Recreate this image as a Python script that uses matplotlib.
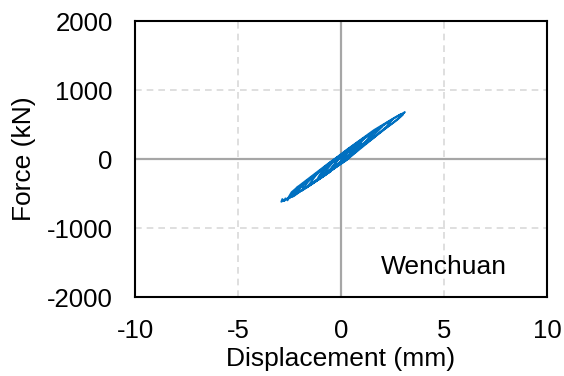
import matplotlib.pyplot as plt

plt.rcParams['font.family'] = ['Liberation Sans', 'DejaVu Sans']
plt.rcParams['axes.unicode_minus'] = False

# Hysteresis trace (displacement in mm, force in kN)
disp = [0.0, 0.3, 0.6, 0.4, 0.9, 1.1, 0.7, 0.2, -0.3, -0.7,
        -0.5, -1.0, -1.2, -0.8, -0.3, 0.2, 0.7, 1.2, 1.6, 1.3,
        0.8, 0.3, -0.2, -0.8, -1.4, -1.9, -1.6, -1.1, -0.4, 0.4,
        1.1, 1.7, 2.2, 2.5, 2.2, 1.6, 0.9, 0.2, -0.5, -1.2,
        -1.7, -2.0, -2.1, -1.9, -2.3, -2.6, -2.4, -2.0, -1.3, -0.6,
        0.2, 1.0, 1.7, 2.3, 2.8, 3.1, 2.9, 2.5, 2.0, 1.3,
        0.6, -0.1, -0.8, -1.5, -2.2, -2.6, -2.9, -2.85, -2.75, -2.7,
        -2.6, -2.5, -2.3, -1.8, -1.1, -0.4, 0.3, 1.0, 1.6, 2.1,
        2.6, 2.9, 3.0, 2.7, 2.2, 1.6, 1.0, 0.4, -0.3, -1.0,
        -1.7, -2.3, -2.5, -2.1, -2.2, -1.5, -0.7, 0.1, 0.8, 1.5,
        2.0, 1.7, 1.1, 0.4, -0.3, -1.0, -1.6, -1.2, -0.5, 0.3,
        0.9, 0.5, -0.1, -0.6, -0.2, 0.1, 0.6, 1.0, 0.5, -0.2,
        -0.8, -1.1, -0.6, 0.0, 0.7, 0.4, -0.4, -0.9, -0.4, 0.3,
        0.8, 0.2, -0.5, -0.1, 0.4, 0.0]
force = [0, 100, 190, 150, 250, 290, 140, -20, -130, -210,
         -180, -280, -320, -140, -10, 110, 220, 320, 400, 290,
         130, -10, -110, -240, -360, -460, -330, -190, -20, 140,
         290, 410, 520, 570, 470, 310, 140, -30, -170, -320,
         -420, -390, -490, -370, -530, -580, -480, -380, -220, -60,
         100, 280, 420, 540, 630, 680, 620, 520, 410, 250,
         90, -80, -240, -380, -510, -570, -620, -580, -610, -570,
         -600, -550, -480, -350, -190, -20, 140, 290, 420, 510,
         600, 650, 640, 560, 450, 310, 180, 30, -120, -270,
         -410, -540, -560, -400, -490, -280, -100, 80, 240, 380,
         470, 380, 220, 60, -100, -260, -390, -230, -60, 120,
         250, 100, -70, -180, -30, 50, 170, 230, 60, -90,
         -220, -260, -80, 40, 200, 60, -130, -230, -50, 90,
         180, -20, -150, 10, 130, -40]

xticks = [-10, -5, 0, 5, 10]
yticks = [-2000, -1000, 0, 1000, 2000]
record = 'Wenchuan'

fig = plt.figure(figsize=(5.64, 3.76), dpi=100)
ax = fig.add_axes([0.2394, 0.2101, 0.7305, 0.734])

# light dashed grid, solid zero lines
for v in xticks[1:-1]:
    if v == 0:
        ax.axvline(v, color='#a6a6a6', lw=1.6, zorder=1)
    else:
        ax.axvline(v, color='#d9d9d9', lw=1.2, ls=(0, (4, 3)), zorder=1)
for v in yticks[1:-1]:
    if v == 0:
        ax.axhline(v, color='#a6a6a6', lw=1.6, zorder=1)
    else:
        ax.axhline(v, color='#d9d9d9', lw=1.2, ls=(0, (4, 3)), zorder=1)

ax.plot(disp, force, color='#0070c0', lw=1.3, zorder=3)

ax.set_xlim(-10, 10)
ax.set_ylim(-2000, 2000)
ax.set_xticks(xticks)
ax.set_yticks(yticks)
ax.tick_params(length=0, labelsize=18.5)
ax.tick_params(axis='y', pad=16)
ax.tick_params(axis='x', pad=16)
for s in ax.spines.values():
    s.set_linewidth(1.5)
    s.set_color('black')

ax.set_xlabel('Displacement (mm)', fontsize=19, labelpad=3)
ax.set_ylabel('Force (kN)', fontsize=19, labelpad=8)
ax.text(1.95, -1560, record, fontsize=19, ha='left', va='center')

fig.savefig('out.png', dpi=100)
